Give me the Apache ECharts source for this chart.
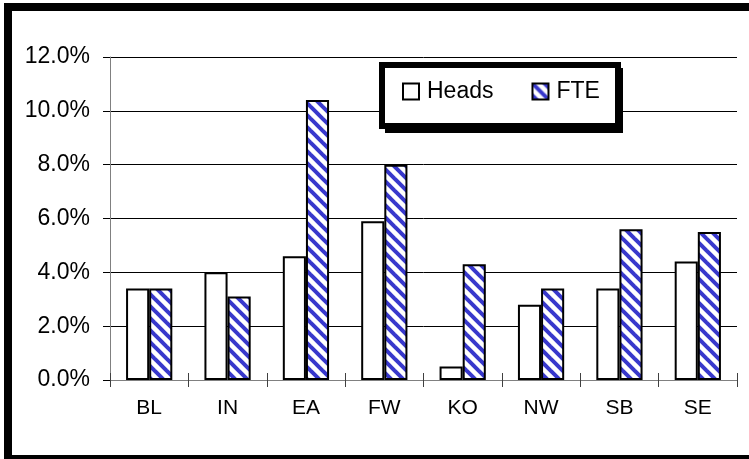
<!DOCTYPE html>
<html>
<head>
<meta charset="utf-8">
<script src="https://cdn.jsdelivr.net/npm/echarts@6/dist/echarts.min.js"></script>
<style>
html,body{margin:0;padding:0;background:#fff;}
#chart{width:749px;height:459px;}
</style>
</head>
<body>
<div id="chart"></div>
<script>
var categories = ['BL', 'IN', 'EA', 'FW', 'KO', 'NW', 'SB', 'SE'];
var headsValues = [3.4, 4.0, 4.6, 5.9, 0.5, 2.8, 3.4, 4.4];
var fteValues = [3.4, 3.1, 10.4, 8.0, 4.3, 3.4, 5.6, 5.5];
var seriesNames = ['Heads', 'FTE'];

function makePattern() {
  var c = document.createElement('canvas');
  var s = 12;
  c.width = s; c.height = s;
  var ctx = c.getContext('2d');
  ctx.fillStyle = '#ffffff';
  ctx.fillRect(0, 0, s, s);
  ctx.strokeStyle = '#3838cc';
  ctx.lineWidth = 4;
  for (var k = -1; k <= 1; k++) {
    ctx.beginPath();
    ctx.moveTo(k * s - 2, -2);
    ctx.lineTo(k * s + s + 2, s + 2);
    ctx.stroke();
  }
  return c;
}
var pattern = { image: makePattern(), repeat: 'repeat' };

var font = '"Liberation Sans", Arial, sans-serif';
var chart = echarts.init(document.getElementById('chart'));
chart.setOption({
  animation: false,
  backgroundColor: '#ffffff',
  grid: { left: 110, right: 12, top: 57, bottom: 79, containLabel: false },
  graphic: [
    { type: 'rect', z: 10, silent: true, shape: { x: 8, y: 7, width: 800, height: 452 },
      style: { fill: 'none', stroke: '#000', lineWidth: 8 } },
    { type: 'rect', z: 10, silent: true, shape: { x: 385, y: 68, width: 238, height: 65 },
      style: { fill: '#000' } },
    { type: 'rect', z: 10, silent: true, shape: { x: 382, y: 65, width: 236, height: 61 },
      style: { fill: '#fff', stroke: '#000', lineWidth: 6 } }
  ],
  legend: {
    z: 20,
    left: 402, top: 80,
    padding: 0,
    itemWidth: 16, itemHeight: 16,
    itemGap: 38,
    icon: 'rect',
    data: seriesNames,
    textStyle: { fontSize: 23, fontFamily: font, color: '#000', padding: [0, 0, 0, 3] }
  },
  xAxis: [{
    type: 'category',
    data: categories,
    position: 'bottom',
    axisLine: { lineStyle: { color: '#808080', width: 1 } },
    axisTick: { show: true, length: 7, lineStyle: { color: '#404040' } },
    axisLabel: { fontSize: 21, fontFamily: font, color: '#000', margin: 18 }
  }, {
    type: 'category',
    data: categories,
    position: 'bottom',
    axisLine: { show: false },
    axisTick: { show: true, inside: true, length: 7, lineStyle: { color: '#404040' } },
    axisLabel: { show: false }
  }],
  yAxis: {
    type: 'value',
    min: 0, max: 12, interval: 2,
    axisLine: { show: true, lineStyle: { color: '#808080', width: 1 } },
    axisTick: { show: true, length: 7, lineStyle: { color: '#000' } },
    splitLine: { show: true, lineStyle: { color: '#000', width: 1 } },
    axisLabel: {
      fontSize: 23, fontFamily: font, color: '#000', margin: 20,
      formatter: function (v) { return v.toFixed(1) + '%'; }
    }
  },
  series: [{
    name: seriesNames[0],
    type: 'bar',
    data: headsValues,
    barGap: '0%',
    barCategoryGap: '41%',
    itemStyle: { color: '#ffffff', borderColor: '#000', borderWidth: 2 }
  }, {
    name: seriesNames[1],
    type: 'bar',
    data: fteValues,
    barGap: '0%',
    barCategoryGap: '41%',
    itemStyle: { color: pattern, borderColor: '#000', borderWidth: 2 }
  }]
});
</script>
</body>
</html>
